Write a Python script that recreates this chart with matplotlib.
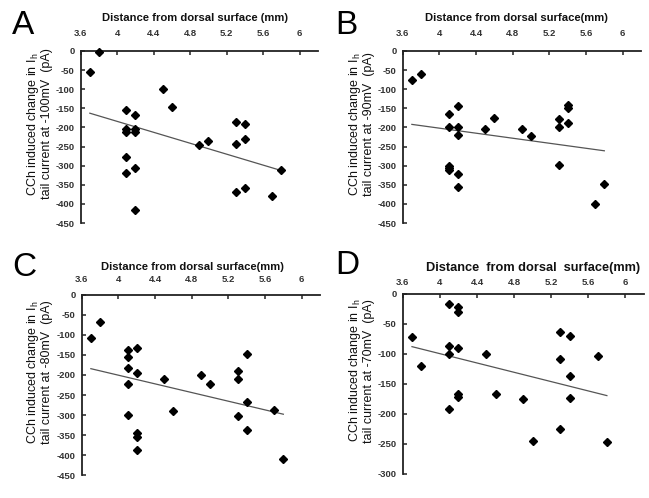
import numpy as np
import matplotlib
matplotlib.use("Agg")
import matplotlib.pyplot as plt
from matplotlib.ticker import FormatStrFormatter

plt.rcParams['font.family'] = ['Liberation Sans', 'DejaVu Sans']

W, H = 649, 498

# ---------------- data ----------------
x_A = [3.7, 3.8, 4.1, 4.1, 4.1, 4.1, 4.1, 4.2, 4.2, 4.2, 4.2, 4.2,
       4.5, 4.6, 4.9, 5.0, 5.3, 5.3, 5.3, 5.4, 5.4, 5.4, 5.7, 5.8]
y_A = [-56, -3, -155, -204, -213, -278, -319, -168, -204, -213, -305, -417,
       -100, -147, -247, -236, -186, -244, -370, -190, -231, -359, -380, -311]

x_B = [3.7, 3.8, 4.1, 4.1, 4.1, 4.1, 4.1, 4.2, 4.2, 4.2, 4.2, 4.2,
       4.5, 4.6, 4.9, 5.0, 5.3, 5.3, 5.3, 5.4, 5.4, 5.4, 5.7, 5.8]
y_B = [-76, -60, -165, -198, -300, -306, -312, -144, -198, -219, -321, -356,
       -203, -175, -204, -222, -177, -198, -298, -142, -148, -189, -400, -347]

x_C = [3.7, 3.8, 4.1, 4.1, 4.1, 4.1, 4.1, 4.2, 4.2, 4.2, 4.2, 4.2,
       4.5, 4.6, 4.9, 5.0, 5.3, 5.3, 5.3, 5.4, 5.4, 5.4, 5.7, 5.8]
y_C = [-109, -69, -138, -154, -183, -222, -299, -133, -194, -345, -355, -387,
       -209, -289, -199, -223, -189, -209, -303, -148, -267, -336, -287, -409]

x_D = [3.7, 3.8, 4.1, 4.1, 4.1, 4.1, 4.2, 4.2, 4.2, 4.2, 4.2,
       4.5, 4.6, 4.9, 5.0, 5.3, 5.3, 5.3, 5.4, 5.4, 5.4, 5.7, 5.8]
y_D = [-73, -121, -18, -87, -101, -193, -23, -31, -91, -168, -172,
       -101, -168, -176, -245, -64, -109, -225, -71, -138, -174, -104, -247]

x_ticks = [3.6, 4.0, 4.4, 4.8, 5.2, 5.6, 6.0]
y_ticks_main = list(range(0, -451, -50))
y_ticks_D = list(range(0, -301, -50))

panel_letters = ["A", "B", "C", "D"]
titles = ["Distance from dorsal surface (mm)",
          "Distance from dorsal surface(mm)",
          "Distance from dorsal surface(mm)",
          "Distance  from dorsal  surface(mm)"]
ylabel_line1 = r"CCh induced change in I$_\mathregular{h}$"
ylabel_line2 = ["tail current at -100mV  (pA)",
                "tail current at -90mV  (pA)",
                "tail current at -80mV  (pA)",
                "tail current at -70mV  (pA)"]

# ---------------- layout (pixels) ----------------
boxes = [(80.7, 318, 51, 223), (402.7, 641, 51, 223),
         (81.7, 320, 294.7, 475.3), (402.7, 644, 293.7, 473.7)]
title_pos = [(195, 18, 8.1), (516, 18, 8.1), (192, 267, 8.1), (533, 268, 9.2)]
xpad = [9, 9, 8, 5]
letter_pos = [(12, 10), (335, 10), (12, 252), (335, 250)]
ylab_x = [39, 361, 39, 361]

fig = plt.figure(figsize=(W / 100, H / 100), dpi=100)

datasets = [(x_A, y_A, y_ticks_main), (x_B, y_B, y_ticks_main),
            (x_C, y_C, y_ticks_main), (x_D, y_D, y_ticks_D)]

axcol = '#222222'
for i, (xs, ys, yt) in enumerate(datasets):
    l, r, t, b = boxes[i]
    ax = fig.add_axes([l / W, 1 - b / H, (r - l) / W, (b - t) / H])
    ax.set_xlim(3.6, 6.2)
    ax.set_ylim(yt[-1], 0)
    for s in ['right', 'bottom']:
        ax.spines[s].set_visible(False)
    for s in ['left', 'top']:
        ax.spines[s].set_linewidth(1.3)
        ax.spines[s].set_color(axcol)
    ax.xaxis.tick_top()
    ax.set_xticks(x_ticks)
    ax.set_yticks(yt)
    ax.xaxis.set_major_formatter(FormatStrFormatter('%g'))
    ax.yaxis.set_major_formatter(FormatStrFormatter('%g'))
    ax.tick_params(axis='x', direction='in', length=3, width=1.1, color=axcol,
                   pad=xpad[i], labelsize=6.8, labelcolor='#333333')
    ax.tick_params(axis='y', direction='in', length=3, width=1.1, color=axcol,
                   pad=4.5, labelsize=6.8, labelcolor='#333333')
    for lab in ax.get_xticklabels() + ax.get_yticklabels():
        lab.set_fontweight('bold')
    xa = np.array(xs)
    ya = np.array(ys)
    ax.plot(xa, ya, linestyle='none', marker='D', markersize=4.3,
            color='black', clip_on=False, zorder=3)
    k, c = np.polyfit(xa, ya, 1)
    xl = np.array([xa.min(), xa.max()])
    ax.plot(xl, k * xl + c, color='#555555', linewidth=0.9, zorder=2)

    tx, ty, ts = title_pos[i]
    fig.text(tx / W, 1 - ty / H, titles[i], ha='center', va='center',
             fontsize=ts, fontweight='bold', color='#111111')
    lx, ly = letter_pos[i]
    fig.text(lx / W, 1 - ly / H, panel_letters[i], ha='left', va='top',
             fontsize=24, color='black')
    yc = 1 - ((t + b) / 2 - 13) / H
    fig.text(ylab_x[i] / W, yc, ylabel_line1 + "\n" + ylabel_line2[i],
             rotation=90, ha='center', va='center', multialignment='center',
             linespacing=1.0, fontsize=9, color='#111111')

fig.savefig("out.png", dpi=100)
